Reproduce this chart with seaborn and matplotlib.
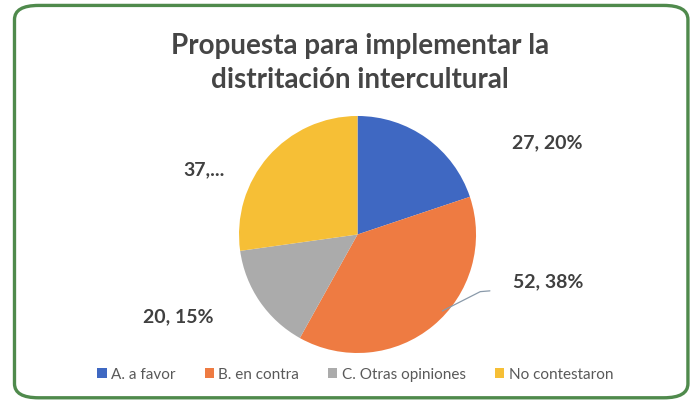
import matplotlib
matplotlib.use('Agg')
import matplotlib.pyplot as plt
import seaborn as sb
from matplotlib.patches import FancyBboxPatch

categorias = ['A. a favor', 'B. en contra', 'C. Otras opiniones', 'No contestaron']
valores = [27, 52, 20, 37]
etiquetas = ['27, 20%', '52, 38%', '20, 15%', '37,...']
colores = ['#3F68C2', '#EE7B42', '#ABABAB', '#F6BF36']

sb.set_style('white')
plt.rcParams['font.family'] = ['Lato', 'DejaVu Sans']

fig = plt.figure(figsize=(6.9, 4.02), dpi=100)
fig.patch.set_facecolor('white')

# marco verde redondeado (el borde derecho queda casi fuera de la imagen)
marco = FancyBboxPatch((0.021, 0.008), 0.976, 0.976,
                       boxstyle='round,pad=0,rounding_size=0.035',
                       transform=fig.transFigure, fill=False,
                       edgecolor='#4F8A4C', linewidth=2.4)
fig.patches.append(marco)

fig.text(0.522, 0.843, 'Propuesta para implementar la\ndistritación intercultural',
         ha='center', va='center', fontsize=20, fontweight='bold',
         color='#454545', linespacing=1.4)

ax = fig.add_axes([0.3464, 0.1194, 0.3435, 0.5896])
wedges, _ = ax.pie(valores, colors=colores, startangle=90, counterclock=False,
                   wedgeprops=dict(linewidth=0))
ax.set_xlim(-1, 1)
ax.set_ylim(-1, 1)
ax.set_aspect('equal')
ax.axis('off')

# etiquetas de datos
pos_etiquetas = [(0.793, 0.644), (0.794, 0.299), (0.258, 0.211), (0.296, 0.577)]
for txt, (x, y) in zip(etiquetas, pos_etiquetas):
    fig.text(x, y, txt, ha='center', va='center', fontsize=14,
             fontweight='bold', color='#404040')

# línea guía de 52, 38%
fig.add_artist(plt.Line2D([0.71, 0.696, 0.641], [0.274, 0.272, 0.224],
                          transform=fig.transFigure, color='#8A9AAA', linewidth=0.9))

fig.legend(wedges, categorias, loc='center', bbox_to_anchor=(0.515, 0.067),
           ncol=4, frameon=False, fontsize=11, handlelength=0.6,
           handleheight=0.6, handletextpad=0.3, columnspacing=1.9,
           labelcolor='#595959')

fig.savefig('out.png', dpi=100)
